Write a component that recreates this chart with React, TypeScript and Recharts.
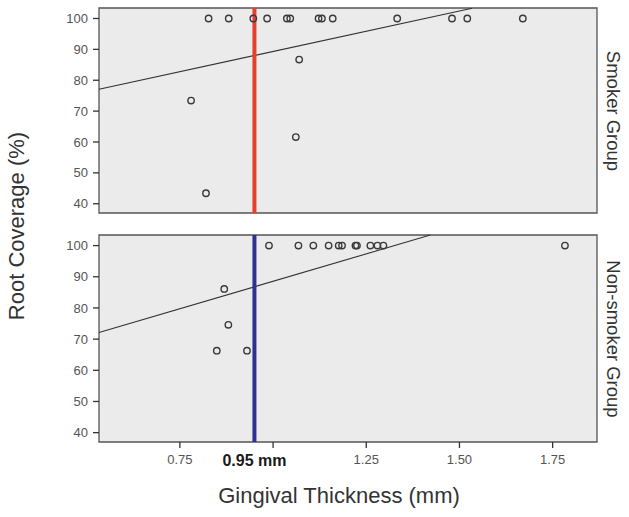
import { ReferenceArea, ReferenceLine, Scatter, ScatterChart, XAxis, YAxis } from 'recharts';

// values
const smokerThickness = [0.827, 0.881, 0.947, 0.984, 1.037, 1.046, 1.122, 1.131, 1.16, 1.333, 1.48, 1.521, 1.67, 1.07, 0.78, 1.061, 0.82];
const smokerCoverage = [100, 100, 100, 100, 100, 100, 100, 100, 100, 100, 100, 100, 100, 86.7, 73.4, 61.6, 43.4];

const nonSmokerThickness = [0.989, 1.068, 1.108, 1.149, 1.176, 1.185, 1.221, 1.225, 1.261, 1.28, 1.296, 1.783, 0.869, 0.88, 0.849, 0.93];
const nonSmokerCoverage = [100, 100, 100, 100, 100, 100, 100, 100, 100, 100, 100, 100, 86.1, 74.6, 66.3, 66.3];

// fit line end points (x, y)
const smokerFitX = [0.533, 1.534];
const smokerFitY = [77.1, 103.3];
const nonSmokerFitX = [0.533, 1.422];
const nonSmokerFitY = [72.1, 103.4];

const xTicks = [0.75, 0.95, 1.0, 1.25, 1.5, 1.75];
const xTickLabels = ['0.75', '0.95 mm', '', '1.25', '1.50', '1.75'];
const yTicks = [40, 50, 60, 70, 80, 90, 100];
const cutoff = 0.95;

const xDomain: [number, number] = [0.533, 1.869];
const yDomain: [number, number] = [37, 103.4];

const font = '"Liberation Sans", Arial, sans-serif';

const toPoints = (xs: number[], ys: number[]) => xs.map((x, i) => ({ x, y: ys[i] }));

const Ring = (props: any) => (
  <circle cx={props.cx} cy={props.cy} r={3.2} fill="none" stroke="#3a3a3a" strokeWidth={1.4} />
);

const XTick = (props: any) => {
  const { x, y, payload } = props;
  const idx = xTicks.indexOf(payload.value);
  const label = xTickLabels[idx] ?? '';
  const bold = payload.value === cutoff;
  const axisY = y - 12;
  return (
    <g>
      {!bold && <line x1={x} x2={x} y1={axisY} y2={axisY + 6} stroke="#333" strokeWidth={1.3} />}
      {label && (
        <text
          x={x}
          y={bold ? y + 11.5 : y + 9.5}
          textAnchor="middle"
          fontFamily={font}
          fontSize={bold ? 16 : 13}
          fontWeight={bold ? 'bold' : 'normal'}
          fill={bold ? '#1a1a1a' : '#555'}
        >
          {label}
        </text>
      )}
    </g>
  );
};

interface PanelProps {
  xs: number[];
  ys: number[];
  fitX: number[];
  fitY: number[];
  cutoffColor: string;
  showX: boolean;
  height: number;
  bottom: number;
}

const Panel = ({ xs, ys, fitX, fitY, cutoffColor, showX, height, bottom }: PanelProps) => (
  <ScatterChart width={629} height={height} margin={{ top: 8, right: 32, bottom, left: 0 }}>
    <ReferenceArea
      x1={xDomain[0]}
      x2={xDomain[1]}
      y1={yDomain[0]}
      y2={yDomain[1]}
      fill="#ebebeb"
      fillOpacity={1}
      stroke="#555"
      strokeWidth={1.3}
    />
    <XAxis
      dataKey="x"
      type="number"
      domain={xDomain}
      allowDataOverflow
      ticks={xTicks}
      hide={!showX}
      height={30}
      axisLine={false}
      tickLine={false}
      tickSize={6}
      tickMargin={6}
      interval={0}
      tick={<XTick />}
    />
    <YAxis
      dataKey="y"
      type="number"
      domain={yDomain}
      allowDataOverflow
      ticks={yTicks}
      width={99}
      axisLine={false}
      tickLine={{ stroke: '#333', strokeWidth: 1.3 }}
      tickSize={6}
      tickMargin={5}
      interval={0}
      tick={{ fontSize: 13, fill: '#555', fontFamily: font }}
    />
    <ReferenceLine
      segment={[
        { x: fitX[0], y: fitY[0] },
        { x: fitX[1], y: fitY[1] },
      ]}
      stroke="#333"
      strokeWidth={1.1}
    />
    <ReferenceLine x={cutoff} stroke={cutoffColor} strokeWidth={4} />
    <Scatter data={toPoints(xs, ys)} shape={<Ring />} isAnimationActive={false} />
  </ScatterChart>
);

const sideLabel = (text: string, cx: number, cy: number, angle: number, size: number) => (
  <div
    style={{
      position: 'absolute',
      left: cx - 150,
      top: cy - 15,
      width: 300,
      height: 30,
      lineHeight: '30px',
      textAlign: 'center',
      transform: `rotate(${angle}deg)`,
      fontFamily: font,
      fontSize: size,
      color: '#333',
      whiteSpace: 'nowrap',
    }}
  >
    {text}
  </div>
);

export default function App() {
  return (
    <div style={{ position: 'absolute', left: 0, top: 0, width: 629, height: 517, background: '#fff', overflow: 'hidden' }}>
      <div style={{ position: 'absolute', left: 0, top: 0 }}>
        <Panel
          xs={smokerThickness}
          ys={smokerCoverage}
          fitX={smokerFitX}
          fitY={smokerFitY}
          cutoffColor="#e4402e"
          showX={false}
          height={221}
          bottom={8}
        />
      </div>
      <div style={{ position: 'absolute', left: 0, top: 227 }}>
        <Panel
          xs={nonSmokerThickness}
          ys={nonSmokerCoverage}
          fitX={nonSmokerFitX}
          fitY={nonSmokerFitY}
          cutoffColor="#2e3191"
          showX
          height={250}
          bottom={5}
        />
      </div>
      {sideLabel('Root Coverage (%)', 17, 226, -90, 22)}
      {sideLabel('Smoker Group', 613, 111, 90, 18.5)}
      {sideLabel('Non-smoker Group', 613, 339, 90, 18.5)}
      {sideLabel('Gingival Thickness (mm)', 339, 496, 0, 22)}
    </div>
  );
}
